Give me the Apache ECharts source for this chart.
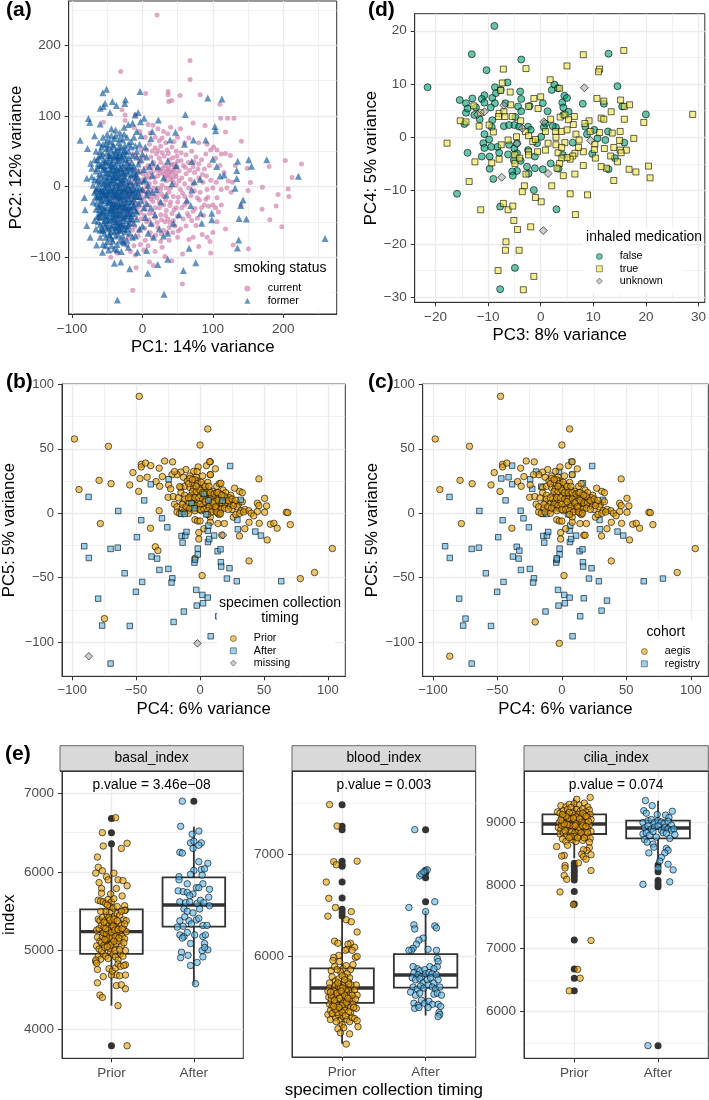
<!DOCTYPE html>
<html>
<head>
<meta charset="utf-8">
<script src="https://cdn.jsdelivr.net/npm/echarts@6/dist/echarts.min.js"></script>
<style>body{margin:0;background:#fff}#main{width:709px;height:1100px}</style>
</head>
<body>
<div id="main"></div>
<script>
// panel (a) PC1 / PC2
var currentPts = [[20.8,243],[67.7,178.6],[67.7,151.7],[-30.8,163],[4.7,132],[36.5,134.7],[36.5,130],[53.5,129],[82,130],[41.7,122],[37.4,120.5],[110,116.7],[111,97],[121,97],[130,97],[72,90],[89,86.5],[118,77.5],[140.6,64.3],[-29,108.7],[-24.6,101.6],[-24.6,93.6],[-55.4,91],[-10,101.6],[203,36.9],[226,32],[180,28.4],[212.6,12.8],[207,-3.3],[208,-14],[192.7,-11.3],[170.5,-1],[190,-27.4],[170,-32],[181,-47],[198,-57],[150.6,-88],[129,-82.7],[153.4,5.7],[150,-5.7],[149,26],[97,-94],[57,-95.5],[-13.7,-147],[56.8,-138],[41.7,-105],[32,-99],[15.6,-112],[10,-107],[-9,-115],[-45,-100],[-35.5,-94.5],[-10,-97],
[8,88],[15,87],[22,82],[30,78],[36,75],[54,82],[50,70],[66,69],[80,62],[92,60],[101,56],[106,52],[112,46],[118,47],[125,44],[60,62],[45,64],[33,62],[26,57],[18,55],[10,60],[4,70],[-4,78],[-12,84],[12,42],[20,46],[28,48],[35,52],[42,56],[48,50],[55,48],[62,45],[70,50],[76,42],[84,38],[90,46],[97,52],[104,40],[110,30],[116,20],[122,8],[128,6],[132,30],[95,30],[88,25],[80,32],[72,28],[65,34],[58,30],[50,36],[44,32],[38,38],[32,30],[26,34],[20,28],[14,20],[22,15],[30,18],[36,24],[42,20],[48,14],[40,10],[46,26],[52,22],[34,8],[28,2],[18,6],[10,12],[4,26],[-4,34],[-10,44],[-2,52],[56,12],[62,18],[68,10],[74,20],[80,12],[86,6],[60,4],[66,-2],[74,-6],[82,-8],[92,-4],[100,-2],[105,6],[112,-4],[120,-2],[126,-8],[106,-16],[100,-26],[94,-28],[88,-26],[104,-30],[108,-36],[112,-26],[140,-26],[118,-60],[106,-50],[100,-65],[92,-72],[85,-68],[76,-55],[70,-48],[64,-38],[56,-30],[50,-22],[44,-14],[38,-8],[30,-14],[24,-22],[18,-30],[12,-18],[6,-10],[0,-4],[-6,4],[-14,-8],[-20,-16],[-12,-22],[-4,-28],[4,-32],[10,-38],[18,-44],[26,-40],[34,-34],[42,-38],[50,-42],[58,-46],[62,-56],[54,-60],[46,-56],[38,-58],[30,-62],[22,-58],[14,-54],[6,-50],[-2,-46],[-10,-44],[-18,-40],[-26,-32],[-32,-18],[-28,-8],[-22,2],[-16,12],[-8,18],[0,10],[6,0],[12,-6],[20,-10],[26,-4],[40,-22],[48,-30],[72,-72],[80,-85],[96,-78],[66,-75],[50,-72],[38,-76],[26,-78],[14,-72],[4,-76],[-6,-70],[-14,-62],[-20,-72],[-24,-58],[-30,-46],[-38,-30],[-42,-16],[-36,2],[-30,14],[-26,24],[-20,34],[-14,46],[-34,38],[-6,-16],[2,-20],[8,-26],[16,-14],[30,-26],[36,-46],[44,-48],[16,34],[24,40],[8,30],[2,42],[72,4],[78,-16],[90,-18],[60,-14],[54,-4],[48,2],[40,-2],[34,-2],[32,12],[26,24],[38,16],[44,6],[52,8],[16,-2],[22,-2],[10,4],[-2,-8],[-8,-32],[-16,-52],[24,-30],[32,-50],[-22,-84],[-12,-84],[2,-90],[18,-92],[28,-86]];
var currentCorePts = [[37,27],[41,31],[44,24],[47,18],[39,21],[35,15],[43,13],[49,28],[33,21],[29,26],[25,19],[21,23],[17,13],[13,27],[9,19],[5,14],[1,18],[-3,22],[-7,12],[-11,6],[-15,-2],[-19,-11],[-13,-16],[-7,-11],[-1,-15],[3,-7],[9,-14],[15,-21],[21,-16],[27,-11],[33,-19],[39,-27],[45,-33],[51,-15],[57,-9],[63,-23],[69,-13],[75,-31],[81,-19],[87,-41],[93,-15],[-25,-24],[-21,-35],[-15,-31],[-9,-25],[-3,-37],[3,-41],[9,-47],[15,-37],[21,-51],[27,-47],[33,-41],[39,-51],[-27,-42],[-33,-34],[-19,-55],[-11,-57],[-5,-63],[3,-59],[11,-65],[19,-69],[27,-67],[35,-65],[43,-65],[51,-63],[31,43],[37,47],[43,41],[49,43],[55,37],[61,27],[67,23],[73,35],[79,25],[85,17],[91,15],[97,9],[24,65],[18,70],[11,76],[40,84],[28,69],[6,52],[14,50],[22,51],[-5,40],[-11,24],[-17,3],[-23,-6],[-29,4],[-35,-8],[-41,-24],[-37,-44],[-43,-60],[-33,-64],[-27,-76],[-17,-92],[-3,-82],[8,-84],[60,-26],[66,-42],[72,-35],[78,-45],[84,-30]];
var formerPts = [[-51,138],[-56.3,132.8],[-3.3,134.7],[-24,123],[-25,117.7],[-42.6,120.5],[-53,118],[-37,115],[-60,111],[-55.4,113.4],[-46,105],[-6,105],[-10.4,101.6],[-76.7,96.4],[-74.8,90.7],[-60,88.8],[2.4,96.9],[-2.8,92],[22.7,94.5],[61,102],[92.8,125.7],[113,124],[103,85],[104,79],[90,66],[-88.5,65.7],[-78,54],[-68,72],[47,77],[14,78],[176.6,38],[221.6,14.7],[259.5,-73.7],[151,38],[155,28.8],[135.4,36],[134,22.7],[134,11.3],[131.6,-2.4],[143,-19],[139.7,-27],[137.3,-45.4],[147.7,-45.8],[136.8,-75.6],[135,-87],[100,38.8],[105.6,28.4],[110.3,15],[116,16.5],[70,35.4],[72.4,66],[59.7,60],[39.3,66],[70,-4.7],[73.9,7],[82,10.4],[63,-19],[68.7,-27],[82.9,-37.8],[84.3,-52],[98.5,-47],[98.5,-37.8],[66.3,-87.4],[75.8,-107.8],[58.2,-119],[36,-103],[30.8,-152.6],[-35.5,-160.7],[7.6,-122.9],[21.8,-110.6],[-18,-116.3],[-30.8,-106.8],[-39.8,-108.7],[6,-90.7],[-7,-93],[-82.4,-15.6],[-81.4,-33],[-79,-55],[-74.3,-71.8],[-65,-82.7],[-56.8,-93],[-79,11.8],[-73.4,33],[-72,26],
[-44,82],[-38,80],[-32,76],[-26,84],[-20,88],[-14,90],[-8,78],[-2,72],[-50,74],[-56,70],[-62,62],[-66,50],[-58,56],[-52,60],[-46,64],[-40,68],[-34,62],[-28,66],[-22,70],[-16,64],[-10,58],[-4,60],[4,56],[12,68],[-68,38],[-62,42],[-56,46],[-50,48],[-44,52],[-38,50],[-32,48],[-26,52],[-20,50],[-14,44],[-8,42],[-2,38],[6,42],[-72,14],[-66,22],[-60,30],[-54,34],[-48,36],[-42,38],[-36,34],[-30,32],[-24,38],[-18,30],[-12,28],[-6,22],[2,24],[10,28],[-70,2],[-64,8],[-58,16],[-52,20],[-46,24],[-40,22],[-34,20],[-28,18],[-22,22],[-16,16],[-10,12],[-4,8],[4,10],[-68,-8],[-62,-2],[-56,4],[-50,8],[-44,10],[-38,6],[-32,8],[-26,4],[-20,8],[-14,2],[-8,-2],[0,-4],[8,2],[-70,-22],[-64,-16],[-58,-10],[-52,-6],[-46,-2],[-40,-4],[-34,-6],[-28,-2],[-22,-8],[-16,-12],[-10,-6],[-4,-14],[6,-12],[14,-8],[-66,-32],[-60,-26],[-54,-20],[-48,-16],[-42,-12],[-36,-16],[-30,-14],[-24,-18],[-18,-22],[-12,-26],[-6,-24],[2,-30],[-68,-48],[-62,-42],[-56,-36],[-50,-30],[-44,-26],[-38,-24],[-32,-28],[-26,-34],[-20,-30],[-14,-38],[-8,-36],[4,-44],[-66,-60],[-60,-54],[-54,-48],[-48,-42],[-42,-38],[-36,-40],[-30,-44],[-24,-48],[-18,-46],[-12,-52],[0,-56],[12,-52],[-60,-72],[-54,-66],[-48,-60],[-42,-54],[-36,-56],[-30,-60],[-24,-64],[-18,-66],[-10,-70],[24,-60],[-56,-82],[-50,-78],[-44,-74],[-38,-70],[-32,-76],[-26,-80],[-20,-86],[-48,-90],[-40,-88],[-30,-92],[18,-40],[26,-22],[34,-12],[42,4],[30,12],[22,28],[14,34],[36,36],[48,30],[52,-40],[44,-52],[36,-66],[30,-70],[-58,-4],[-52,-12],[-46,-20],[-40,-30],[-34,-34],[-28,-24],[-46,14],[-40,14],[-34,12],[-28,10],[-52,0],[-46,4],[-40,-10],[-34,-2],[-54,28],[-48,30],[-42,28],[-36,26],[-44,-46],[-38,-50],[-32,-52],[-60,-38],[-54,-42],[-36,42],[-30,42],[-24,44],[-48,44],[-42,46],[-66,-14],[-62,12],[-56,24],[-64,-42],[-58,-20]];
var formerCorePts = [[-41,57],[-37,44],[-33,55],[-29,39],[-25,58],[-47,41],[-51,54],[-55,38],[-59,44],[-63,32],[-43,33],[-39,29],[-35,37],[-31,26],[-27,30],[-23,27],[-19,41],[-15,34],[-53,25],[-49,19],[-45,31],[-41,16],[-37,23],[-33,15],[-29,22],[-25,14],[-21,18],[-17,24],[-13,18],[-61,18],[-57,9],[-53,14],[-49,3],[-45,18],[-41,9],[-37,13],[-33,3],[-29,6],[-25,11],[-21,1],[-17,7],[-13,-4],[-9,5],[-65,-3],[-61,5],[-57,-7],[-53,6],[-49,-9],[-45,-5],[-41,-1],[-37,-9],[-33,-12],[-29,-7],[-25,-3],[-21,-12],[-17,-5],[-63,-12],[-59,-18],[-55,-13],[-51,-17],[-47,-11],[-43,-19],[-39,-14],[-35,-21],[-31,-18],[-27,-15],[-23,-22],[-19,-17],[-15,-21],[-11,-13],[-65,-24],[-61,-33],[-57,-28],[-53,-34],[-49,-23],[-45,-31],[-41,-24],[-37,-33],[-33,-27],[-29,-36],[-25,-29],[-21,-38],[-17,-33],[-13,-29],[-63,-50],[-59,-44],[-55,-52],[-51,-46],[-47,-37],[-43,-33],[-39,-41],[-35,-47],[-31,-38],[-27,-45],[-23,-41],[-19,-52],[-15,-46],[-57,-60],[-53,-56],[-49,-52],[-45,-64],[-41,-47],[-37,-62],[-33,-57],[-29,-52],[-25,-55],[-21,-60],[-52,-72],[-47,-68],[-42,-77],[-36,-82],[-28,-70],[-22,-76],[-14,-72],[-38,72],[-44,72],[-50,66],[-56,60],[-32,68],[-26,74],[-20,60],[-12,70],[-42,60],[-30,56],[-24,50],[-16,56],[-8,50],[-60,50],[-48,56],[-36,52],[-40,42],[-34,44],[-28,46],[-22,34],[-46,44],[-52,36],[-58,30],[-64,26],[-44,24],[-38,18],[-32,25],[-26,20],[-20,28],[-14,26],[-8,14],[-50,12],[-44,6],[-38,1],[-32,-1],[-26,-5],[-20,-1],[-14,-9],[-8,-14],[-60,-6],[-54,-2],[-48,-6],[-42,-7],[-36,-12],[-30,-10],[-24,-12],[-18,-6],[-60,-14],[-54,-10],[-48,-22],[-42,-28],[-36,-26],[-30,-24],[-24,-26],[-18,-28],[-12,-18],[-6,-8],[-58,-36],[-52,-40],[-46,-34],[-40,-36],[-34,-40],[-28,-30],[-22,-32],[-16,-42],[-10,-34],[-54,-30],[-48,-48],[-42,-44],[-36,-50],[-30,-54],[-24,-42],[-18,-38],[-56,-62],[-50,-58],[-44,-56],[-38,-58],[-32,-62],[-26,-60],[-20,-56],[-46,-70],[-40,-64],[-34,-68],[-28,-78],[-52,-84],[-44,-84],[-36,-90],[-62,-28],[-66,-6],[-68,10],[-64,38],[-60,-62],[-10,18],[-4,-2],[2,8],[8,-6],[14,16],[20,-4],[-6,32],[0,46],[-2,-20],[6,-24],[12,-30],[-8,-46],[-4,-60],[8,-66],[16,-72]];

// panel (d) PC3 / PC4
var medFalsePts = [[-8.8,20.9],[-13.1,15.6],[-3.7,14.6],[-10.3,12.6],[-21.5,9.4],[12.9,15.7],[14.6,9.6],[8,6.3],[20,4.3],[15.5,5.8],[12,6.3],[-15.4,7],[-13,7.3],[-14.2,6.4],[-10.7,7.9],[-11.2,7.2],[-10.7,6.5],[-8.7,9.4],[-9.2,7.4],[-8.5,8.3],[-7.6,8.9],[-8.7,6.4],[-9.5,5.6],[-14.2,4.6],[-13.9,5.4],[-12.3,5.6],[-12.6,4.2],[-14.5,2.5],[-11.6,3.4],[-6.7,6.4],[-6.3,10.3],[-3.9,8.6],[-3.7,7.2],[-4.3,5.8],[-3.7,4.9],[-2.1,5.9],[0.4,6.4],[1.3,4.9],[2.1,8.9],[2.6,9.9],[3.3,9.2],[4.5,7.8],[5,7.4],[4.1,6.5],[4.3,5.6],[5.3,4.8],[4.3,4.2],[-9.2,3.2],[-9.3,1.9],[-7,2.1],[-6,2.3],[-4.8,3.8],[-5,2.3],[-4.1,2],[-2.4,2],[-1.9,1.4],[0.9,2.6],[0.6,1.9],[2.9,1.9],[2.3,2.1],[-10.7,0.6],[-9.8,-0.4],[-10.9,-1.1],[-9.4,-1.8],[-10.7,-2],[-8.2,-1.8],[-7.9,-2.9],[-13.9,-2.9],[-11.2,-3.6],[-9.7,-3.6],[-9.7,-5.9],[-9,-7.8],[-6,-1.4],[-6.2,-3.2],[-5,-2.1],[-4.5,-3],[-5.1,-4.3],[-3.8,-4.4],[-4.5,-1.1],[-2.4,-2.4],[-1.1,-3.6],[-1.1,-5.8],[-2.6,-5.5],[-2.3,-6.8],[0.4,-6],[-4.5,-6.3],[-5.4,-6.4],[-5.3,-7.2],[-0.7,-1.1],[0.1,0.1],[1.9,-4.9],[3.4,-5.9],[4.2,-3.3],[6.1,-1],[8.5,2],[8.8,0.6],[10.2,1.4],[9.8,-3.1],[10.8,-0.2],[12.3,-0.5],[12.8,1.1],[12.9,-6],[14.1,-3.9],[15.9,-1],[-15.9,-10.6],[-1.3,-9.9],[-7.7,-13],[3,-13.5],[-4.9,-24.5],[-7.7,-28.5]];
var medTruePts = [[28.9,4.3],[15.8,16.3],[8.1,15.5],[5,13.4],[11.2,12.8],[11,12.3],[-7.1,12.8],[-2.8,12.9],[-7.3,10.2],[1.8,10.8],[3.6,9.2],[-5.8,8.5],[-7.6,8.8],[-1.3,7.3],[0,7.6],[10.7,7.3],[12,6.8],[15.2,7],[15.9,5.8],[16.9,6.1],[-0.5,5.4],[-2.3,5.8],[-5.7,6.1],[-12.7,5.9],[-11.4,4.6],[-7.9,4.5],[-7,4.8],[-8,3.9],[-6.8,3.9],[-15.3,3.1],[-14.2,2.9],[-11.7,2.1],[-9.8,2.3],[-9,1],[-5.4,3.9],[-3.8,3.1],[1.9,3.4],[3.7,3.8],[4.6,4.2],[6.4,3.9],[5.3,3.3],[6.2,2.4],[9.2,3.1],[8.4,2.6],[11.5,3.6],[12,3.4],[13.4,4.8],[15.9,3.4],[19.6,2.8],[-17.8,-1.1],[-12.5,-4.6],[-13.6,-8.3],[17.7,-0.2],[20.5,-5.4],[20.8,-7.6],[18.1,-6.5],[16.8,-6],[15.1,1.1],[15,-0.6],[13.9,-1.9],[15.1,-2.4],[16.3,-2.4],[15.3,-2.9],[13.3,-3.5],[14.6,-4.6],[12.5,-5.8],[11.5,-5.5],[13.9,-8.1],[8.9,-10.8],[8.1,-5.3],[10.4,-3.9],[8.1,-2.7],[10.3,-1.3],[10.2,-2.3],[12.1,-2.1],[11.2,0.9],[9.4,1.1],[13.6,0.8],[6.7,0.6],[7.3,-0.5],[7.2,-1.9],[6.5,-3],[6.1,-3.5],[5.6,-4.1],[4.6,-1],[5,-3.8],[4.3,-7.2],[6.5,-6.9],[5.6,-10.6],[6.6,-14.5],[2.1,-9.1],[0.1,-12.1],[-1,-11.3],[-3.1,-9.1],[-3.5,-10.2],[-2.8,-6.9],[-7.1,-12.4],[-6.2,-13.6],[-5.3,-12.9],[-11.4,-13.6],[-5.1,-15.6],[-4.4,-17.3],[-1.9,-16.8],[-6.6,-19.6],[-6.7,-21.2],[-4.1,-21.2],[-8.1,-25],[-1.3,-26.1],[-3.3,-28.6],[-7.5,-1.4],[-9.3,-4.8],[-7.9,-4.1],[-4.6,0.1],[-6.2,-0.5],[-2.9,1.1],[-2.3,0.3],[-1.5,-0.8],[-1,-0.4],[-0.6,-2.7],[-2.3,-2.7],[-2.3,-3.3],[-4.9,-3.3],[-4.9,-4.9],[-4,-3.9],[0.9,-2.4],[1.4,-1.1],[0.9,1.1],[2.8,1.1],[2.9,0],[4,1.1],[5,1.4],[2.9,-1.4],[3.3,-2.9],[4,-1.9],[4,-3.9],[3.6,-4.9],[3.1,-5.8]];
var medUnknownPts = [[8.3,9.3],[0.6,2.9],[-12,4.3],[-10.7,4.8],[-7.4,-7.5],[1.4,-6.8],[0.5,-17.5],[9.5,-0.6],[-4.5,-1.2],[-7,6],[-3.5,1.7]];

// panels (b) and (c) PC4 / PC5, same samples split two ways
var priorAegisPts = [[-47.6,90.8],[6,65.5],[0,53],[-98.3,57.7],[-71.7,52],[-94.7,18.4],[-79,25.6],[-69.6,23],[-78,-8],[-55,22],[-52.5,31.6],[-48,17],[-46,38],[-46,36],[-42.7,39],[-34.4,24.6],[-32,35],[-29.5,28.5],[-27.7,40.6],[-21.5,39.9],[-31.6,21],[-24.6,22],[-25,12.4],[-21,13],[-20,7],[38.3,-37],[1.6,-48.4],[89.5,-46],[103.5,-27.4],[46,26.7],[50.5,11.6],[52,5.7],[44.8,7.8],[46,6],[50.5,0.8],[44.8,1.3],[46.3,-7.8],[52.5,-20.7],[55,-8.5],[57.7,-7.8],[60.3,-11.6],[67.5,0.8],[68.6,0.5],[70.6,-8.8],[38.3,-7],[35,-12],[30.8,-17.6],[5,37],[8,40],[-1.5,36],[12,34.5],[-5,32.5],[-11,34],[-15,32],[-18,30],[-22,30],[-13,28],[-8,29],[-3,28],[2,29],[8,30],[-10,25],[-6,23],[-2,25],[2,22],[6,24],[-15,20],[-12,21],[-8,20],[-5,19],[-1,20],[3,18],[7,18],[10,17],[13,21],[15,23],[18,18],[20,16],[24,14],[27,19.5],[31,17],[33,16],[-15,16],[-12,14],[-7,14],[-4,15],[0,14],[4,13],[8,14],[11,12],[14,13],[17,11],[20,10],[23,12],[27,8],[30,7],[33,9],[-17,12],[-13,8],[-9,8],[-5,9],[-1,9],[3,7],[7,8],[10,6],[13,7],[16,5],[19,7],[22,6],[25,3],[29,5],[32,2],[35,3],[38,2],[40,0],[42,-2],[-18,5],[-14,4],[-10,2],[-6,5],[-2,4],[1,2],[5,4],[9,3],[12,2],[15,1],[-18,1],[-16,0],[-13,1],[-9,0],[14,0],[15,-1],[26,-3],[28,-1],[31,0],[34,1],[-4,-5],[-2,-6],[0,-6],[8,-3],[8,-7],[14,-8],[19,-8],[-1,-15],[-1,-20],[3,-12],[17,-17],[-38.8,-11.6]];
var priorCorePts = [[-8,27],[-4,26],[-6,17],[-3,17],[0,18],[2,16],[5,16],[8,16],[11,15],[13,16],[16,15],[19,13],[-7,11],[-4,12],[-1,12],[2,11],[5,11],[8,11],[11,9],[14,10],[17,8],[20,8],[23,9],[26,6],[-6,7],[-3,6],[0,7],[4,9],[7,5],[10,8],[13,4],[16,3],[19,4],[22,3],[-12,11],[-9,12],[-14,7],[-11,5],[-8,4],[-4,2],[0,3],[3,3],[6,2],[9,1],[12,5],[-2,23],[1,24],[4,21],[7,21],[-9,23],[-6,26],[-3,21],[14,16],[17,14],[22,10],[25,11],[28,10],[13,1],[16,0],[6,-1]];
var priorRegistryPts = [[-74.8,-81.8],[78.4,-50.7],[-47,27],[-41.4,28],[-38.6,37],[-35,-26],[-33,-29],[-4,-35],[-32,2],[-20,32.4],[-23,19],[-16,20.7],[7.5,40],[-2.3,32.4],[8,30],[16.3,23.3]];
var afterRegistryPts = [[23.5,36.7],[-24.6,26.4],[-38.6,22.5],[-43.7,10],[-87.2,12.7],[-64,1.8],[-46,-5.4],[-29.8,-3.9],[-25.6,-10.9],[-49.4,-18.6],[-90.6,-25.6],[-87,-34.7],[-70,-27.7],[-64.4,-26.7],[-38,-33.6],[-33.6,-35.2],[-31.8,-44],[-24.8,-43.2],[-59,-46.6],[-45.3,-53.3],[-50.2,-61],[-21.7,-50.5],[-22.3,-53.8],[-79.7,-66.3],[-76.6,-87.2],[-55,-87.5],[-70,-116.7],[-12.7,-76.3],[-3,-59.5],[1.8,-63.4],[6,-65.5],[-2.6,-71.7],[2.3,-69.9],[14.2,-80],[8.3,-95.5],[17,-66],[35,-67.8],[30.8,-75.6],[21,-50.7],[28.7,-52.8],[63.5,-52.8],[23,-42.7],[16.3,-38],[16.5,-41.4],[13.7,-29.5],[16,-28],[-4.4,-38.3],[-3.9,-36],[-1.8,-32],[-1.8,-27.4],[-13.7,-22.8],[-14.5,-17.6],[-11.6,-17.3],[-10.6,-14.5],[6.2,-22.3],[7.2,-20],[11,-17.3],[6,-13.5],[6.5,-9.6],[29.2,-5.2],[29.5,-12.4],[43.2,-14.2],[47.6,-17.3],[31.8,10.4],[-6.7,7.8],[-4.4,3.9],[-14.7,-0.5],[-12,-0.5],[4.7,-0.8],[17.6,9.8],[6.5,10],[3,15]];
var afterAegisPts = [[-20.7,-84.4]];
var missingAegisPts = [[-87,-111],[-2,-101]];
var missingExtraPts = [[18,-17]];

// panel (e) strip plots, [jittered x, index value]
var basalPriorPts = [[1.05,6690],[.89,6500],[1.19,6365],[.9,6330],[1.12,6300],[.83,6190],[.84,6060],[.81,5985],[.89,6015],[1.03,5985],[.85,5865],[.94,5940],[.96,5900],[1.08,5900],[1.14,5890],[1.19,5825],[.88,5790],[.88,5730],[1.06,5790],[1.13,5695],[1.16,5570],[1.17,5515],[1.08,4300],[1.19,3790],[.86,4435],[.89,4405],[.83,4590],[.9,4670],[1.17,4515],[1.06,4555],[1.12,4565],[1.17,4690],[1.06,4690],[1,4690],[1.1,4680],[1.17,4820],[.83,4760],[.81,4860],
[.84,5640],[.87,5630],[.9,5620],[.93,5600],[.96,5650],[1,5620],[1.03,5660],[.98,5560],[1.02,5540],[.84,5400],[.86,5380],[.89,5420],[.92,5380],[.95,5450],[.98,5480],[1.01,5420],[1.04,5440],[1.07,5470],[1.1,5450],[1.15,5390],[1.18,5380],[1.16,5510],[.82,5260],[.85,5280],[.88,5320],[.91,5300],[.94,5350],[.97,5320],[1,5360],[1.03,5290],[1.06,5300],[1.09,5350],[1.12,5320],[1.15,5270],[.83,5170],[.86,5120],[.89,5180],[.92,5210],[.95,5250],[.98,5180],[1.01,5220],[1.04,5150],[1.07,5200],[1.1,5220],[1.13,5180],[1.16,5150],[1.18,5240],[.82,5060],[.85,5020],[.88,5100],[.91,5070],[.94,5120],[.97,5080],[1,5110],[1.03,5040],[1.06,5090],[1.09,5120],[1.12,5060],[1.15,5100],[.84,4930],[.87,4890],[.9,4960],[.93,4930],[.96,4900],[.99,4980],[1.02,4950],[1.05,4920],[1.08,4880],[1.11,4960],[1.14,4930],[1.17,5000],[.81,4880],[.82,4840],[.97,4770],[1.01,4740],[1.05,4780],[1.08,4830],[1.11,4800],[1.15,4810],[.88,5000],[.92,5040],[.98,5030],[1.04,5000],[1.1,5010],[.95,5580],[.99,5720],[.93,5500],[1.07,5560],[1.12,5500],[.87,5500],[.9,5230],[.95,5150],[1,5290],[1.03,5200],[1.06,5240],[.97,5420],[1.01,5360],[.94,5210],
[.98,5390],[1.02,5310],[.96,5260],[1,5230],[1.04,5260],[1.08,5270],[.93,5280],[.97,5160],[1.01,5160],[1.05,5180],[1.09,5160],[.99,5070],[1.03,5120],[.95,5050],[.92,5140],[1.13,5280],[1.16,5340],[1.03,5400],[1.07,5380],[.91,5360]];
var basalAfterPts = [[1.86,6900],[1.84,6580],[1.98,6480],[2.06,6520],[1.96,6370],[2,6390],[2.09,6370],[2.06,6340],[1.99,6300],[1.83,6250],[1.86,6240],[2.06,6130],[2.17,6110],[2.09,6030],[2.13,6040],[2,6020],[2.1,5960],[1.96,5970],[1.82,5940],[1.82,5900],[1.92,5850],[2.03,5800],[2.11,5850],[2.19,5780],[1.81,5760],[1.87,5750],[1.92,5740],[1.99,5720],[2.06,5800],[1.95,5700],[2.18,5680],[1.83,5620],[1.9,5610],[1.95,5620],[2.04,5600],[2.08,5640],[2.12,5610],[2.19,5570],[1.88,5530],[1.92,5500],[1.99,5480],[2.07,5530],[1.83,5380],[1.8,5300],[1.89,5430],[1.94,5380],[1.97,5340],[2.03,5390],[2.06,5410],[2.11,5320],[2.16,5320],[1.87,5310],[1.83,5200],[1.88,5180],[1.92,5230],[1.86,5160],[1.96,5090],[2.01,5200],[2.11,5180],[2.14,5200],[2.13,5090],[2.1,5000],[2.17,5010],[2.13,5040],[1.85,4980],[1.84,4910],[1.93,4940],[2.11,4920],[2.04,4850],[1.96,4810],[2.02,4580]];
var bloodPriorPts = [[.85,7490],[.94,7280],[.9,6930],[.93,6900],[1.18,6935],[.81,6730],[.84,6570],[.92,6480],[1.11,6440],[.83,6395],[1.05,6360],[1.11,6340],[1.18,6240],[.91,6150],[.95,6130],[1.1,6130],[1.07,6120],[1.06,6070],[1.15,6090],[1.12,6060],[1.04,6060],[1.16,5990],[.96,6010],[.9,5990],[.89,5960],[.97,5950],[1.18,6000],[1.01,5880],[1.05,5910],[1.1,5870],[1.13,5920],[.87,5860],[.85,5740],[.98,5850],[.91,5900],[.94,5870],[1.06,5830],[1.09,5790],[1.03,5800],[.88,5800],[.92,5760],[.96,5780],[1,5720],[1.03,5730],[1.07,5750],[1.11,5720],[1.17,5720],[.85,5690],[.88,5660],[.91,5700],[.94,5680],[.97,5650],[1.01,5640],[1.04,5680],[1.08,5670],[1.11,5640],[1.15,5670],[1.18,5620],[.84,5600],[.87,5580],[.9,5610],[.93,5620],[.96,5590],[.99,5610],[1.02,5570],[1.05,5600],[1.09,5590],[1.12,5560],[1.16,5580],[.85,5530],[.88,5510],[.91,5540],[.95,5520],[.98,5490],[1.01,5540],[1.04,5510],[1.07,5530],[1.1,5500],[1.13,5530],[1.17,5490],[.83,5430],[.86,5380],[.89,5440],[.92,5400],[.95,5430],[.98,5370],[1.01,5410],[1.06,5380],[1.09,5360],[1.12,5400],[1.15,5390],[1.19,5310],[1.18,5370],[1,5330],[.95,5290],[.98,5250],[1.02,5300],[1.09,5240],[1.05,5140],[.93,5360],[.87,5620],[.83,5660],[.92,5720],[1,5810],[1.05,5660],[.96,5700],[1.08,5620],[1,5520],[.94,5450],[1.03,5470],[1.1,5450],[.86,5470],[1.03,5620],[.98,5700],[.9,5660],
[.94,5640],[.97,5590],[1.01,5690],[1.05,5550],[1.08,5730],[.91,5570],[.88,5440],[.92,5480],[.96,5500],[1,5450],[1.04,5420],[1.08,5460],[1.12,5620],[.86,5650],[.9,5510],[.99,5660],[1.03,5770],[.95,5740],[1.07,5590],[1.14,5500]];
var bloodAfterPts = [[1.87,7244],[2.02,6850],[1.93,6790],[1.95,6810],[1.98,6830],[2.11,6537],[1.8,6480],[2,6440],[1.86,6310],[1.87,6270],[2.11,6300],[2.13,6280],[1.97,6180],[1.92,6160],[1.89,6120],[1.85,6080],[1.83,6060],[1.8,6060],[2.03,6070],[2.13,6060],[2.14,5980],[2.15,5950],[1.9,5880],[2.14,5900],[2.05,5900],[1.85,5900],[1.93,5860],[1.99,5870],[2.1,5880],[1.86,5840],[1.91,5820],[1.95,5800],[2,5830],[2.04,5840],[2.08,5830],[2.13,5820],[1.84,5790],[1.88,5770],[1.93,5780],[1.97,5740],[2.02,5770],[2.06,5790],[2.1,5740],[2.15,5770],[1.85,5700],[1.9,5680],[1.94,5710],[1.98,5690],[2.03,5720],[2.08,5700],[2.12,5680],[2.17,5700],[1.82,5650],[1.88,5620],[1.93,5640],[2.1,5630],[2.14,5640],[2.19,5620],[1.86,5540],[1.91,5520],[1.95,5570],[1.99,5540],[2.04,5560],[2.08,5530],[1.87,5490],[1.92,5500],[2.03,5500],[2.15,5530],[2.18,5510],[2.16,5450],[2.17,5430],[2.15,5410]];
var ciliaPriorPts = [[1.19,9400],[1.03,9370],[.84,9270],[.9,9250],[.94,9290],[1,9300],[1.06,9280],[1.12,9310],[1.16,9250],[1.18,9200],[.8,9170],[.83,9150],[.87,9190],[.92,9210],[.96,9240],[.99,9170],[1.03,9210],[1.07,9180],[1.1,9220],[1.14,9170],[1.19,9130],[.85,9080],[.88,9110],[.92,9130],[.96,9080],[1,9110],[1.04,9130],[1.08,9090],[1.12,9120],[1.16,9080],[1.2,9050],[.82,9000],[.86,9020],[.9,8990],[.94,9030],[.98,9000],[1.02,9040],[1.06,8990],[1.1,9020],[1.14,9000],[1.18,8960],[.81,8920],[.84,8890],[.88,8930],[.92,8910],[.96,8940],[1,8900],[1.04,8930],[1.08,8880],[1.12,8920],[1.16,8900],[1.2,8860],[.83,8820],[.87,8840],[.91,8800],[.95,8850],[.99,8810],[1.03,8830],[1.07,8790],[1.11,8810],[1.15,8770],[1.19,8750],[.86,8740],[.9,8700],[.98,8730],[1.02,8700],[1.1,8720],[1.18,8690],[.79,8620],[.92,8640],[1.18,8600],[1.15,8560],[1.11,8570],[1.09,8500],[1.2,8490],[.88,8480],[.85,8470],[1.11,8460],[1.14,8420],[.89,8320],[.89,8280],[1.05,8360],[1.2,8240],[.88,8160],[.91,8100],[.83,7900],[.99,7700],[1.2,7130],[1.04,6670],[1.07,6530],[.94,6330],[.97,9060],[1.01,9020],[.95,8960],[1.05,8960],[1.09,9000],[.93,9070],[.97,8860],[1.01,8840],[1.05,8880],[.89,8870],[1.13,8850],[1.17,9020],[.85,8960],
[.98,9150],[1.02,9090],[1.06,9060],[1.1,9150],[1.14,9100],[.94,9160],[.9,9100],[.86,9130],[.98,8950],[1.02,8980],[1.06,8920],[1.1,8950],[1.14,8940],[.92,8970],[.88,8980],[.84,9040],[1,8780],[1.04,8760],[.96,8780],[1.08,8840],[1.12,8760],[.94,8760],[1.16,8840],[1.01,8950],[.99,9070]];
var ciliaAfterPts = [[1.85,9350],[1.93,9270],[1.83,9190],[1.86,9150],[1.99,9130],[2.17,9180],[2.09,9120],[2.13,9080],[1.82,9000],[1.88,9030],[1.92,9050],[1.96,9000],[2,9030],[2.04,9010],[2.08,8990],[2.12,9020],[2.16,8960],[1.84,8920],[1.88,8950],[1.92,8900],[1.96,8930],[2,8950],[2.04,8880],[2.08,8920],[2.12,8900],[2.16,8880],[2.19,8900],[1.82,8820],[1.86,8840],[1.9,8800],[1.94,8860],[1.98,8770],[2.06,8840],[2.1,8830],[2.14,8750],[2.2,8810],[1.84,8730],[1.87,8690],[1.94,8660],[1.95,8610],[1.89,8520],[2.1,8590],[2.12,8560],[2.08,8520],[2.04,8450],[2.02,8390],[2.12,8340],[2,8280],[2.18,8250],[1.82,8020],[2.14,8060],[1.88,5460]];

// boxplot stats: [x, lower whisker, Q1, median, Q3, upper whisker]
var basalBox = [[1,4300,4958,5241,5525,6343],[2,4563,5305,5580,5932,6576]];
var bloodBox = [[1,5143,5544,5690,5883,6462],[2,5420,5694,5818,6023,6446]];
var ciliaBox = [[1,8434,8820,8979,9132,9386],[2,8380,8751,8915,9032,9349]];
// outliers drawn dark at the box centre
var basalOut = [[1,6680],[1,6500],[1,6360],[1,3790],[2,6900]];
var bloodOut = [[1,7488],[1,7277],[1,7244],[1,6935],[1,6902],[1,6886],[1,6730],[1,6573],[1,6462],[1,6430],[1,6397],[2,7244],[2,6847],[2,6820],[2,6772],[2,6537]];
var ciliaOut = [[1,8354],[1,8302],[1,8250],[1,8200],[1,8150],[1,8090],[1,7905],[1,7709],[1,7137],[1,6677],[1,6529],[1,6333],[2,8328],[2,8222],[2,8080],[2,8026],[2,7984],[2,5460]];
var timingLabels = ['Prior', 'After'];

var FONT = '"Liberation Sans", Arial, sans-serif';
var TICK = '#4D4D4D', DARK = '#333333', GRIDC = '#EBEBEB';
var PINK = 'rgba(204,121,167,0.65)', BLUE = 'rgba(5,80,150,0.62)';
var GREEN = 'rgba(0,158,115,0.6)', YELLOW = 'rgba(240,228,66,0.6)', GRAY = 'rgba(153,153,153,0.5)';
var ORANGE = 'rgba(230,159,0,0.6)', SKY = 'rgba(86,180,233,0.6)', EDGE = 'rgba(0,0,0,0.6)';

var grids = [], xAxes = [], yAxes = [], series = [], graphics = [], legends = [];

function minus(v) { return String(v).replace('-', '\u2212'); }

// one ggplot style panel: a real axis pair plus a silent pair for the thin minor lines
function addPanel(o) {
    var g = grids.length;
    grids.push({left: o.l, top: o.t, width: o.r - o.l, height: o.b - o.t, show: true, borderColor: DARK, borderWidth: 1, backgroundColor: '#fff'});
    function axis(range, major, name, gap, fmt) {
        return {
            type: 'value', gridIndex: g, min: range[0], max: range[1], scale: true,
            name: name, nameLocation: 'middle', nameGap: gap, nameMoveOverlap: false,
            nameTextStyle: {fontFamily: FONT, fontSize: o.nameSize || 16.8, color: '#000'},
            axisLine: {show: true, onZero: false, lineStyle: {color: DARK, width: 1}},
            axisTick: {show: true, length: 4, customValues: major, lineStyle: {color: DARK, width: 1}},
            axisLabel: {show: true, margin: 8, customValues: major, formatter: fmt, fontFamily: FONT, fontSize: o.tick || 13.5, color: TICK},
            splitLine: {show: true, lineStyle: {color: GRIDC, width: 1.3}}
        };
    }
    function silent(range, minor) {
        return {
            type: 'value', gridIndex: g, min: range[0], max: range[1], scale: true,
            axisLine: {show: false}, axisLabel: {show: false},
            axisTick: {show: false, customValues: minor},
            splitLine: {show: minor.length > 0, lineStyle: {color: GRIDC, width: 0.7}}
        };
    }
    var xi = xAxes.length;
    xAxes.push(axis(o.xr, o.xMajor, o.xName, o.xGap || 25, o.xFmt || minus));
    xAxes.push(silent(o.xr, o.xMinor));
    yAxes.push(axis(o.yr, o.yMajor, o.yName, o.yGap || 44, minus));
    yAxes.push(silent(o.yr, o.yMinor));
    return xi;
}

function addPts(ax, name, data, symbol, size, color, edge, z) {
    series.push({
        type: 'scatter', name: name, xAxisIndex: ax, yAxisIndex: ax, data: data,
        symbol: symbol, symbolSize: size, z: z || 3, silent: true, large: false,
        itemStyle: {color: color, borderColor: edge || 'transparent', borderWidth: edge ? 1 : 0, opacity: 1}
    });
}

function addLegend(names, left, top, pad) {
    legends.push({
        data: names, orient: 'vertical', left: left, top: top, padding: pad,
        backgroundColor: '#fff', itemWidth: 6, itemHeight: 6, itemGap: 1.3, selectedMode: false,
        textStyle: {fontFamily: FONT, fontSize: 10.7, color: '#000', padding: [0, 0, 0, 12.5]},
        itemStyle: {borderWidth: 0.7}
    });
}

function addText(text, x, y, size, opt) {
    opt = opt || {};
    graphics.push({type: 'text', x: x, y: y, z: 100, silent: true, style: {
        text: text, font: (opt.bold ? 'bold ' : '') + size + 'px ' + FONT, fill: '#000',
        align: opt.align || 'center', verticalAlign: 'middle'
    }});
}

function evenly(from, to, step) {
    var out = [];
    for (var v = from; v <= to; v += step) out.push(v);
    return out;
}

// (a)
var axA = addPanel({l: 68.7, r: 336.7, t: 1, b: 314, xr: [-104.7, 276], yr: [-180.6, 263],
    xMajor: [-100, 0, 100, 200], xMinor: [-50, 50, 150, 250], yMajor: [-100, 0, 100, 200], yMinor: [-150, -50, 50, 150, 250],
    xName: 'PC1: 14% variance', yName: 'PC2: 12% variance'});
addPts(axA, 'current', currentPts.concat(currentCorePts), 'circle', 5, PINK);
addPts(axA, 'former', formerPts.concat(formerCorePts), 'triangle', 7, BLUE);
addLegend(['current', 'former'], 232, 262, [21, 31, 3, 12]);
addText('smoking status', 280, 268, 13.9);

// (d)
var axD = addPanel({l: 414.7, r: 707.7, t: 13.7, b: 302.3, xr: [-23.95, 31.2], yr: [-30.96, 23.2],
    xMajor: evenly(-20, 30, 10), xMinor: evenly(-15, 25, 10), yMajor: evenly(-30, 20, 10), yMinor: evenly(-25, 15, 10),
    xName: 'PC3: 8% variance', yName: 'PC4: 5% variance', yGap: 35});
addPts(axD, 'false', medFalsePts, 'circle', 7, GREEN, EDGE);
addPts(axD, 'true', medTruePts, 'rect', 6, YELLOW, EDGE);
addPts(axD, 'unknown', medUnknownPts, 'diamond', 8, GRAY, EDGE);
addLegend(['false', 'true', 'unknown'], 583, 228, [23, 20, 6, 13]);
addText('inhaled medication', 644, 237, 13.9);

// (b)
var axB = addPanel({l: 60, r: 345.3, t: 384, b: 676.3, xr: [-108, 113.6], yr: [-126.6, 100.4], tick: 13,
    xMajor: evenly(-100, 100, 50), xMinor: evenly(-75, 75, 50), yMajor: evenly(-100, 100, 50), yMinor: evenly(-75, 75, 50),
    xName: 'PC4: 6% variance', yName: 'PC5: 5% variance'});
addPts(axB, 'Prior', priorAegisPts.concat(priorCorePts, priorRegistryPts), 'circle', 6.5, ORANGE, EDGE);
addPts(axB, 'After', afterRegistryPts.concat(afterAegisPts), 'rect', 5.5, SKY, EDGE);
addPts(axB, 'missing', missingAegisPts.concat(missingExtraPts), 'diamond', 7.5, GRAY, EDGE);
addLegend(['Prior', 'After', 'missing'], 217, 595, [38, 45, 4, 13]);
addText('specimen collection', 280, 603, 14);
addText('timing', 280, 618, 14);

// (c)
var axC = addPanel({l: 422.7, r: 708.3, t: 384, b: 676.3, xr: [-108, 113.6], yr: [-126.6, 100.4], tick: 13,
    xMajor: evenly(-100, 100, 50), xMinor: evenly(-75, 75, 50), yMajor: evenly(-100, 100, 50), yMinor: evenly(-75, 75, 50),
    xName: 'PC4: 6% variance', yName: 'PC5: 5% variance', yGap: 42});
addPts(axC, 'registry', afterRegistryPts.concat(priorRegistryPts), 'rect', 5.5, SKY, EDGE);
addPts(axC, 'aegis', priorAegisPts.concat(priorCorePts, afterAegisPts, missingAegisPts, missingExtraPts), 'circle', 6.5, ORANGE, EDGE);
addLegend(['aegis', 'registry'], 627, 620, [26, 5, 5, 14]);
addText('cohort', 665.7, 631.7, 13.9);

// (e)
function addBox(ax, boxes) {
    series.push({
        type: 'custom', xAxisIndex: ax, yAxisIndex: ax, data: boxes, silent: true, z: 2,
        encode: {x: 0, y: [1, 2, 3, 4, 5]},
        renderItem: function (params, api) {
            var cx = api.value(0), half = 0.38;
            var q1 = api.coord([cx - half, api.value(2)]), q3 = api.coord([cx + half, api.value(4)]);
            var lo = api.coord([cx, api.value(1)]), hi = api.coord([cx, api.value(5)]);
            var m0 = api.coord([cx - half, api.value(3)]), m1 = api.coord([cx + half, api.value(3)]);
            var stroke = {stroke: DARK, lineWidth: 1.8, fill: null};
            return {type: 'group', children: [
                {type: 'line', shape: {x1: lo[0], y1: lo[1], x2: lo[0], y2: q1[1]}, style: stroke},
                {type: 'line', shape: {x1: hi[0], y1: hi[1], x2: hi[0], y2: q3[1]}, style: stroke},
                {type: 'rect', shape: {x: q1[0], y: q3[1], width: q3[0] - q1[0], height: q1[1] - q3[1]}, style: stroke},
                {type: 'line', shape: {x1: m0[0], y1: m0[1], x2: m1[0], y2: m1[1]}, style: {stroke: DARK, lineWidth: 3.4}}
            ]};
        }
    });
}

function addFacet(o) {
    var ax = addPanel({l: o.l, r: o.r, t: 771.3, b: 1058.3, xr: [0.4, 2.6], yr: o.yr, xGap: o.xName ? 25 : 0,
        xMajor: [1, 2], xMinor: [], yMajor: o.yMajor, yMinor: o.yMinor,
        xName: o.xName || '', yName: o.yName || '', yGap: 44, nameSize: 17,
        xFmt: function (v) { return timingLabels[v - 1]; }});
    addBox(ax, o.box);
    addPts(ax, o.name + ' outliers', o.out, 'circle', 7, DARK, null, 2);
    addPts(ax, o.name + ' Prior', o.prior, 'circle', 6.5, ORANGE, EDGE);
    addPts(ax, o.name + ' After', o.after, 'circle', 6.5, SKY, EDGE);
    graphics.push({type: 'rect', z: 90, silent: true, shape: {x: o.l, y: 745.7, width: o.r - o.l, height: 25.6},
        style: {fill: '#D9D9D9', stroke: '#666', lineWidth: 1}});
    graphics.push({type: 'line', z: 91, silent: true, shape: {x1: o.l, y1: 771.3, x2: o.r, y2: 771.3},
        style: {stroke: DARK, lineWidth: 1.6}});
    addText(o.name, (o.l + o.r) / 2, 758.5, 13.9);
    addText(o.p, (o.l + o.r) / 2, 785, 13.8);
}

addFacet({name: 'basal_index', p: 'p.value = 3.46e\u221208', l: 60, r: 243.3, yr: [3631, 7280],
    yMajor: [4000, 5000, 6000, 7000], yMinor: [4500, 5500, 6500], yName: 'index',
    box: basalBox, out: basalOut, prior: basalPriorPts, after: basalAfterPts});
addFacet({name: 'blood_index', p: 'p.value = 0.003', l: 292, r: 475.7, yr: [5013, 7817],
    yMajor: [6000, 7000], yMinor: [5500, 6500, 7500], xName: 'specimen collection timing',
    box: bloodBox, out: bloodOut, prior: bloodPriorPts, after: bloodAfterPts});
addFacet({name: 'cilia_index', p: 'p.value = 0.074', l: 524, r: 708.3, yr: [5259, 9815],
    yMajor: [6000, 7000, 8000, 9000], yMinor: [5500, 6500, 7500, 8500, 9500],
    box: ciliaBox, out: ciliaOut, prior: ciliaPriorPts, after: ciliaAfterPts});

// panel letters
addText('(a)', 6, 10, 21, {bold: true, align: 'left'});
addText('(d)', 368, 10, 21, {bold: true, align: 'left'});
addText('(b)', 6, 382, 21, {bold: true, align: 'left'});
addText('(c)', 368, 382, 21, {bold: true, align: 'left'});
addText('(e)', 5, 754, 21, {bold: true, align: 'left'});

var chart = echarts.init(document.getElementById('main'), null, {renderer: 'canvas'});
chart.setOption({
    animation: false,
    backgroundColor: '#fff',
    grid: grids,
    xAxis: xAxes,
    yAxis: yAxes,
    legend: legends,
    series: series,
    graphic: {elements: graphics}
});
</script>
</body>
</html>
